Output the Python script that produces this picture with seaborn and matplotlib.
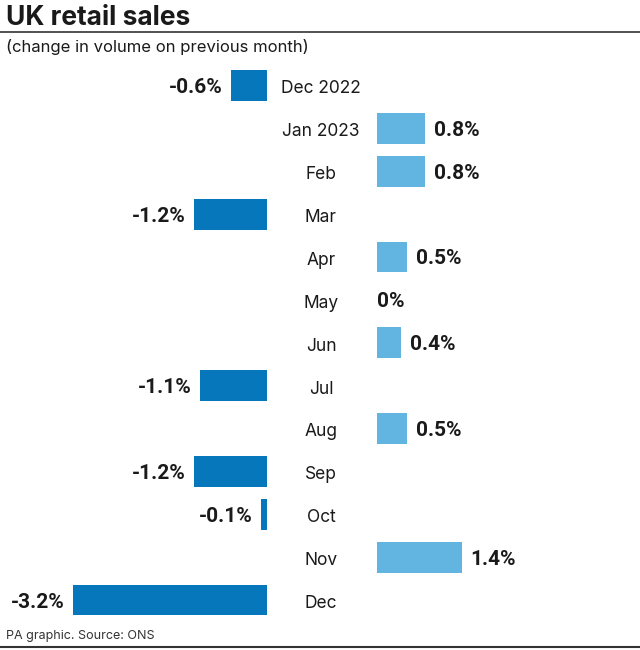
import matplotlib
matplotlib.use("Agg")
import matplotlib.pyplot as plt
import matplotlib.transforms as mtransforms
import seaborn as sns
import pandas as pd

months = ["Dec 2022", "Jan 2023", "Feb", "Mar", "Apr", "May", "Jun",
          "Jul", "Aug", "Sep", "Oct", "Nov", "Dec"]
values = [-0.6, 0.8, 0.8, -1.2, 0.5, 0.0, 0.4, -1.1, 0.5, -1.2, -0.1, 1.4, -3.2]
value_labels = ["-0.6%", "0.8%", "0.8%", "-1.2%", "0.5%", "0%", "0.4%",
                "-1.1%", "0.5%", "-1.2%", "-0.1%", "1.4%", "-3.2%"]

title = "UK retail sales"
subtitle = "(change in volume on previous month)"
footer = "PA graphic. Source: ONS"

DARK = "#0677BA"
LIGHT = "#62B5E1"

sns.set_theme(style="white")
plt.rcParams["font.family"] = ["Inter", "DejaVu Sans"]

df = pd.DataFrame({"month": months, "value": values, "label": value_labels})
df["neg"] = df["value"].where(df["value"] < 0, 0.0)
df["pos"] = df["value"].where(df["value"] > 0, 0.0)

W, H = 640, 650
fig = plt.figure(figsize=(W / 100, H / 100), dpi=100)

top_px, bot_px = 64, 621.5
scale = 60.6  # px per 1 percentage point
left_zero_px = 267
right_zero_px = 377
left_min_px = 40
right_max_px = 630

axL = fig.add_axes([left_min_px / W, 1 - bot_px / H,
                    (left_zero_px - left_min_px) / W, (bot_px - top_px) / H])
axR = fig.add_axes([right_zero_px / W, 1 - bot_px / H,
                    (right_max_px - right_zero_px) / W, (bot_px - top_px) / H])

sns.barplot(data=df, y="month", x="neg", order=months, orient="h", ax=axL,
            color=DARK, saturation=1, width=0.72, linewidth=0)
sns.barplot(data=df, y="month", x="pos", order=months, orient="h", ax=axR,
            color=LIGHT, saturation=1, width=0.72, linewidth=0)

axL.set_xlim(-(left_zero_px - left_min_px) / scale, 0)
axR.set_xlim(0, (right_max_px - right_zero_px) / scale)
for ax in (axL, axR):
    ax.set_ylim(len(months) - 0.5, -0.5)
    ax.axis("off")

val_font = dict(fontsize=15, fontweight="bold", color="#1a1a1a",
                family=["Roboto", "DejaVu Sans"])
for i, (v, lab) in enumerate(zip(values, value_labels)):
    if v < 0:
        axL.annotate(lab, xy=(v, i), xytext=(-6, 0), textcoords="offset points",
                     ha="right", va="center_baseline", **val_font)
    else:
        off = 6 if v > 0 else 0
        axR.annotate(lab, xy=(v, i), xytext=(off, 0), textcoords="offset points",
                     ha="left", va="center_baseline", **val_font)

trans = mtransforms.blended_transform_factory(fig.transFigure, axL.transData)
shift = mtransforms.ScaledTranslation(0, -2.5 / 72, fig.dpi_scale_trans)
for i, m in enumerate(months):
    fig.text(321 / W, i, m, transform=trans + shift, ha="center", va="center",
             fontsize=12.5, color="#1a1a1a")

fig.text(6 / W, 1 - 18 / H, title, ha="left", va="center", fontsize=19,
         fontweight="bold", color="#1a1a1a")
fig.add_artist(plt.Line2D([0, 1], [1 - 32 / H, 1 - 32 / H],
                          transform=fig.transFigure, color="#333333", lw=1.2))
fig.text(6 / W, 1 - 47 / H, subtitle, ha="left", va="center", fontsize=12,
         color="#1a1a1a")
fig.text(6 / W, 1 - 636 / H, footer, ha="left", va="center", fontsize=9,
         color="#333333")
fig.add_artist(plt.Line2D([0, 1], [1 - 647 / H, 1 - 647 / H],
                          transform=fig.transFigure, color="#333333", lw=1.5))

fig.savefig("out.png", dpi=100, facecolor="white")
